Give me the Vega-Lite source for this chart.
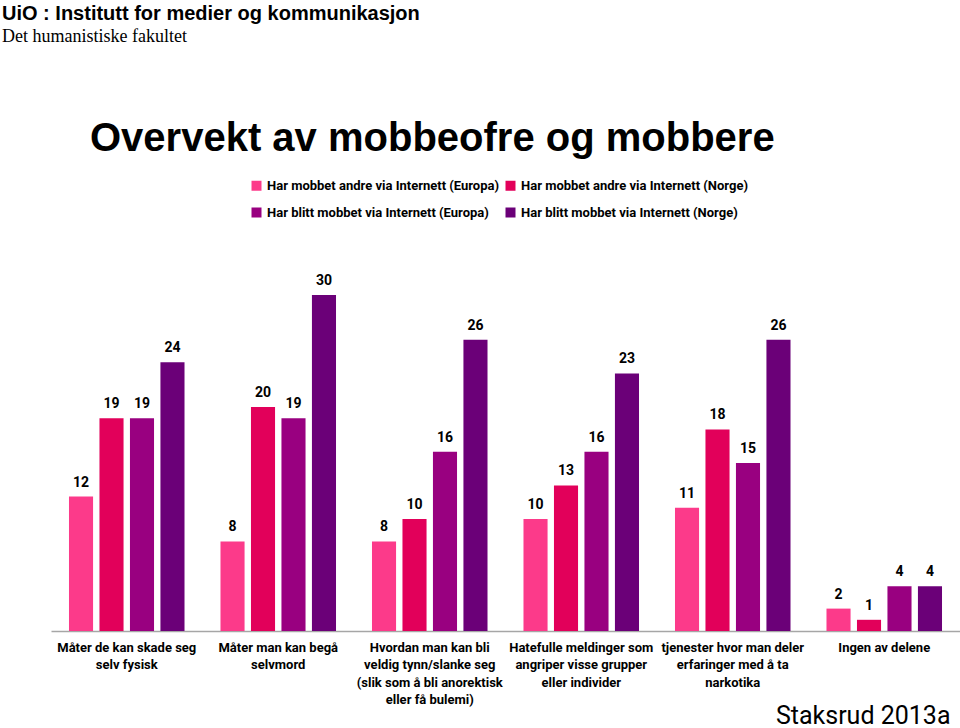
{
  "$schema": "https://vega.github.io/schema/vega-lite/v6.json",
  "background": "white",
  "padding": {"left": 2, "top": 4, "right": 0, "bottom": 0},
  "title": {
    "text": "UiO : Institutt for medier og kommunikasjon",
    "subtitle": "Det humanistiske fakultet",
    "anchor": "start",
    "frame": "group",
    "dx": -49,
    "font": "Liberation Sans",
    "fontSize": 20,
    "fontWeight": "bold",
    "color": "black",
    "subtitleFont": "Liberation Serif",
    "subtitleFontSize": 18,
    "subtitleColor": "black",
    "subtitlePadding": 4,
    "offset": 73
  },
  "vconcat": [
    {
      "title": {
        "text": "Overvekt av mobbeofre og mobbere",
        "anchor": "start",
        "frame": "group",
        "dx": 39,
        "font": "Liberation Sans",
        "fontSize": 40,
        "fontWeight": "bold",
        "color": "black",
        "offset": 115
      },
      "width": 909,
      "height": 336,
      "data": {
        "values": [
          {"kategori": "Måter de kan skade seg|selv fysisk", "serie": "Har mobbet andre via Internett (Europa)", "verdi": 12},
          {"kategori": "Måter de kan skade seg|selv fysisk", "serie": "Har mobbet andre via Internett (Norge)", "verdi": 19},
          {"kategori": "Måter de kan skade seg|selv fysisk", "serie": "Har blitt mobbet via Internett (Europa)", "verdi": 19},
          {"kategori": "Måter de kan skade seg|selv fysisk", "serie": "Har blitt mobbet via Internett (Norge)", "verdi": 24},
          {"kategori": "Måter man kan begå|selvmord", "serie": "Har mobbet andre via Internett (Europa)", "verdi": 8},
          {"kategori": "Måter man kan begå|selvmord", "serie": "Har mobbet andre via Internett (Norge)", "verdi": 20},
          {"kategori": "Måter man kan begå|selvmord", "serie": "Har blitt mobbet via Internett (Europa)", "verdi": 19},
          {"kategori": "Måter man kan begå|selvmord", "serie": "Har blitt mobbet via Internett (Norge)", "verdi": 30},
          {"kategori": "Hvordan man kan bli|veldig tynn/slanke seg|(slik som å bli anorektisk|eller få bulemi)", "serie": "Har mobbet andre via Internett (Europa)", "verdi": 8},
          {"kategori": "Hvordan man kan bli|veldig tynn/slanke seg|(slik som å bli anorektisk|eller få bulemi)", "serie": "Har mobbet andre via Internett (Norge)", "verdi": 10},
          {"kategori": "Hvordan man kan bli|veldig tynn/slanke seg|(slik som å bli anorektisk|eller få bulemi)", "serie": "Har blitt mobbet via Internett (Europa)", "verdi": 16},
          {"kategori": "Hvordan man kan bli|veldig tynn/slanke seg|(slik som å bli anorektisk|eller få bulemi)", "serie": "Har blitt mobbet via Internett (Norge)", "verdi": 26},
          {"kategori": "Hatefulle meldinger som|angriper visse grupper|eller individer", "serie": "Har mobbet andre via Internett (Europa)", "verdi": 10},
          {"kategori": "Hatefulle meldinger som|angriper visse grupper|eller individer", "serie": "Har mobbet andre via Internett (Norge)", "verdi": 13},
          {"kategori": "Hatefulle meldinger som|angriper visse grupper|eller individer", "serie": "Har blitt mobbet via Internett (Europa)", "verdi": 16},
          {"kategori": "Hatefulle meldinger som|angriper visse grupper|eller individer", "serie": "Har blitt mobbet via Internett (Norge)", "verdi": 23},
          {"kategori": "tjenester hvor man deler|erfaringer med å ta|narkotika", "serie": "Har mobbet andre via Internett (Europa)", "verdi": 11},
          {"kategori": "tjenester hvor man deler|erfaringer med å ta|narkotika", "serie": "Har mobbet andre via Internett (Norge)", "verdi": 18},
          {"kategori": "tjenester hvor man deler|erfaringer med å ta|narkotika", "serie": "Har blitt mobbet via Internett (Europa)", "verdi": 15},
          {"kategori": "tjenester hvor man deler|erfaringer med å ta|narkotika", "serie": "Har blitt mobbet via Internett (Norge)", "verdi": 26},
          {"kategori": "Ingen av delene", "serie": "Har mobbet andre via Internett (Europa)", "verdi": 2},
          {"kategori": "Ingen av delene", "serie": "Har mobbet andre via Internett (Norge)", "verdi": 1},
          {"kategori": "Ingen av delene", "serie": "Har blitt mobbet via Internett (Europa)", "verdi": 4},
          {"kategori": "Ingen av delene", "serie": "Har blitt mobbet via Internett (Norge)", "verdi": 4}
        ]
      },
      "encoding": {
        "x": {
          "field": "kategori",
          "type": "nominal",
          "sort": null,
          "scale": {"paddingInner": 0, "paddingOuter": 0},
          "axis": {
            "title": "Staksrud 2013a",
            "titleAnchor": "end",
            "titleAlign": "right",
            "titleX": 899,
            "titleY": 92,
            "titleBaseline": "alphabetic",
            "titleFont": "Roboto",
            "titleFontSize": 25,
            "titleFontWeight": "normal",
            "titleColor": "black",
            "labelExpr": "split(datum.label, '|')",
            "labelFont": "Roboto",
            "labelFontSize": 13,
            "labelFontWeight": "bold",
            "labelColor": "black",
            "labelLineHeight": 17.5,
            "labelPadding": 10,
            "labelAngle": 0,
            "labelBaseline": "top",
            "labelOverlap": false,
            "labelBound": false,
            "labelLimit": 0,
            "ticks": false,
            "tickSize": 0,
            "domainColor": "#A6A6A6",
            "domainWidth": 1.5
          }
        },
        "xOffset": {
          "field": "serie",
          "type": "nominal",
          "sort": ["Har mobbet andre via Internett (Europa)", "Har mobbet andre via Internett (Norge)", "Har blitt mobbet via Internett (Europa)", "Har blitt mobbet via Internett (Norge)"],
          "scale": {"paddingInner": 0.21, "paddingOuter": 0.59}
        },
        "y": {
          "field": "verdi",
          "type": "quantitative",
          "scale": {"domain": [0, 30], "nice": false, "zero": true},
          "axis": null
        }
      },
      "layer": [
        {
          "mark": {"type": "bar"},
          "encoding": {
            "color": {
              "field": "serie",
              "type": "nominal",
              "sort": ["Har mobbet andre via Internett (Europa)", "Har mobbet andre via Internett (Norge)", "Har blitt mobbet via Internett (Europa)", "Har blitt mobbet via Internett (Norge)"],
              "scale": {
                "domain": ["Har mobbet andre via Internett (Europa)", "Har mobbet andre via Internett (Norge)", "Har blitt mobbet via Internett (Europa)", "Har blitt mobbet via Internett (Norge)"],
                "range": ["#FC3A8A", "#E2005A", "#990080", "#6B0078"]
              },
              "legend": {
                "orient": "none",
                "legendX": 199,
                "legendY": -116,
                "columns": 2,
                "direction": "horizontal",
                "title": null,
                "symbolType": "square",
                "symbolSize": 100,
                "symbolStrokeWidth": 0,
                "symbolOpacity": 1,
                "labelFont": "Roboto",
                "labelFontSize": 13,
                "labelFontWeight": "bold",
                "labelColor": "black",
                "labelOffset": 4,
                "labelLimit": 0,
                "rowPadding": 13,
                "columnPadding": 4,
                "padding": 0
              }
            }
          }
        },
        {
          "mark": {"type": "text", "dy": -14, "font": "Roboto", "fontSize": 14, "fontWeight": "bold", "color": "black"},
          "encoding": {"text": {"field": "verdi", "type": "quantitative"}}
        }
      ]
    }
  ],
  "config": {"view": {"stroke": null}, "concat": {"spacing": 0}}
}
